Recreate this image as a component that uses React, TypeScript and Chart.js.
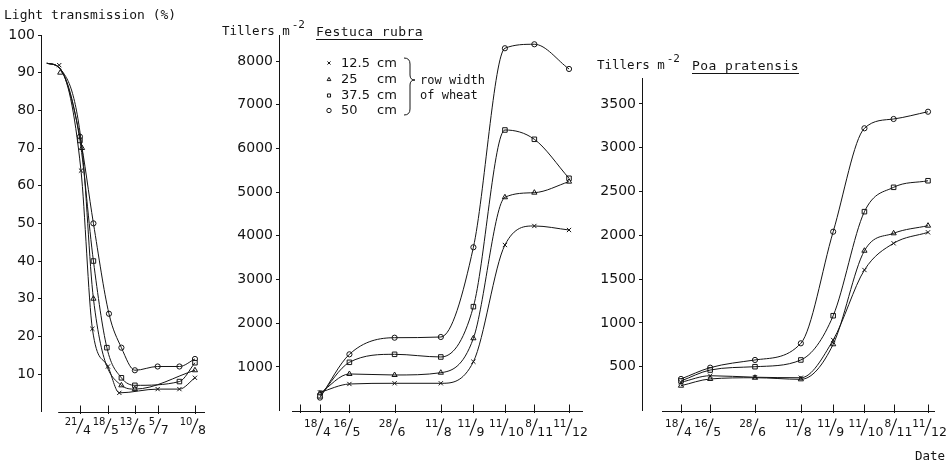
import React, { useEffect, useRef } from "react";
import { Chart, registerables } from "chart.js";
import { drawPoint } from "chart.js/helpers";

Chart.register(...registerables);

const W = 951;
const H = 464;
const INK = "#141414";
const SANS = "'DejaVu Sans', sans-serif";
const MONO = "'DejaVu Sans Mono', monospace";

// ---------------- Panel 1: Light transmission (%) ----------------
const LT_TICK_DAYS = [111, 138, 164, 186, 222];
const LT_TICK_LABELS = [["21", "4"], ["18", "5"], ["13", "6"], ["5", "7"], ["10", "8"]];
const LT_Y_TICKS = [10, 20, 30, 40, 50, 60, 70, 80, 90, 100];
const LT_CURVE_HEAD_DAYS = [79, 92];
const LT_CURVE_HEAD_VALUES = [92.5, 91];

const LT_12_DAYS = [91, 112, 123, 138, 149, 186, 207, 222];
const LT_12_VALUES = [92, 64, 22, 12, 5, 6, 6, 9];
const LT_25_DAYS = [92, 113, 124, 151, 164, 222];
const LT_25_VALUES = [90, 70, 30, 7, 6, 11];
const LT_37_DAYS = [111, 124, 137, 151, 164, 207, 222];
const LT_37_VALUES = [72, 40, 17, 9, 7, 8, 13];
const LT_50_DAYS = [111, 124, 139, 151, 164, 186, 207, 222];
const LT_50_VALUES = [73, 50, 26, 17, 11, 12, 12, 14];

// ---------------- Panels 2 & 3: sampling dates ----------------
const DATE_DAYS = [108, 136, 179, 223, 254, 284, 312, 345];
const DATE_LABELS = [["18", "4"], ["16", "5"], ["28", "6"], ["11", "8"], ["11", "9"], ["11", "10"], ["8", "11"], ["11", "12"]];
const FR_EXTRA_TICK_DAYS = [89];

// Festuca rubra, tillers m-2
const FR_Y_TICKS = [1000, 2000, 3000, 4000, 5000, 6000, 7000, 8000];
const FR_12 = [420, 611, 627, 627, 1121, 3791, 4226, 4134];
const FR_25 = [400, 840, 817, 869, 1657, 4883, 4988, 5240];
const FR_37 = [340, 1107, 1290, 1229, 2380, 6422, 6209, 5317];
const FR_50 = [300, 1290, 1670, 1686, 3739, 8292, 8383, 7818];

// Poa pratensis, tillers m-2
const PP_Y_TICKS = [500, 1000, 1500, 2000, 2500, 3000, 3500];
const PP_12 = [322, 397, 380, 374, 805, 1604, 1909, 2034];
const PP_25 = [283, 360, 374, 356, 756, 1824, 2023, 2110];
const PP_37 = [337, 462, 500, 577, 1082, 2270, 2548, 2623];
const PP_50 = [360, 489, 577, 767, 2041, 3222, 3328, 3411];

// Legend
const LEGEND_WIDTHS = ["12.5", "25", "37.5", "50"];
const LEGEND_UNIT = "cm";
const LEGEND_NOTE = ["row width", "of wheat"];

const STYLES = [
  { pointStyle: "crossRot", radius: 3 },
  { pointStyle: "triangle", radius: 3 },
  { pointStyle: "rect", radius: 3.2 },
  { pointStyle: "circle", radius: 2.6 },
];

type P = { x: number; y: number };
const zip = (xs: number[], ys: number[]): P[] => xs.map((x, i) => ({ x, y: ys[i] }));

function buildDatasets(points: P[][], curves: P[][]) {
  const ds: any[] = [];
  curves.forEach((c) =>
    ds.push({
      data: c,
      borderColor: INK,
      borderWidth: 1,
      pointRadius: 0,
      cubicInterpolationMode: "monotone",
      fill: false,
    })
  );
  points.forEach((p, i) =>
    ds.push({
      data: p,
      showLine: false,
      pointStyle: STYLES[i].pointStyle,
      pointRadius: STYLES[i].radius,
      pointBackgroundColor: "#fff",
      pointBorderColor: INK,
      pointBorderWidth: 1,
    })
  );
  return ds;
}

const xDecoPlugin = {
  id: "xDeco",
  afterDraw(chart: any, _args: any, opts: any) {
    const { ctx, scales } = chart;
    const xs = scales.x;
    const y0 = Math.round(scales.y.getPixelForValue(0)) + 0.5;
    ctx.save();
    ctx.strokeStyle = INK;
    ctx.fillStyle = INK;
    ctx.lineWidth = 1;
    ctx.beginPath();
    ctx.moveTo(xs.getPixelForValue(opts.start), y0);
    ctx.lineTo(xs.getPixelForValue(opts.end), y0);
    ctx.stroke();
    const allTicks: number[] = [...opts.extra, ...opts.days];
    allTicks.forEach((d) => {
      const px = Math.round(xs.getPixelForValue(d)) + 0.5;
      ctx.beginPath();
      ctx.moveTo(px, y0 - 7);
      ctx.lineTo(px, y0 + 1.5);
      ctx.stroke();
    });
    opts.days.forEach((d: number, i: number) => {
      const lab = opts.labels[i];
      const px = xs.getPixelForValue(d);
      ctx.textBaseline = "alphabetic";
      ctx.font = `${opts.numSize}px ${SANS}`;
      ctx.textAlign = "right";
      ctx.fillText(lab[0], px - 2.5, y0 + opts.numBase);
      ctx.font = `${opts.denSize}px ${SANS}`;
      ctx.textAlign = "left";
      ctx.fillText(lab[1], px + 3, y0 + opts.denBase);
      ctx.lineWidth = 1.1;
      ctx.beginPath();
      ctx.moveTo(px - 3.5, y0 + opts.denBase);
      ctx.lineTo(px + 3, y0 + opts.slashTop);
      ctx.stroke();
    });
    ctx.restore();
  },
};

const legendPlugin = {
  id: "fescueLegend",
  afterDraw(chart: any, _args: any, opts: any) {
    if (!opts || !opts.show) return;
    const { ctx } = chart;
    const rows = [63, 79.5, 95.5, 110.5];
    ctx.save();
    ctx.strokeStyle = INK;
    ctx.fillStyle = INK;
    ctx.lineWidth = 1;
    LEGEND_WIDTHS.forEach((w, i) => {
      ctx.save();
      ctx.fillStyle = "#fff";
      ctx.strokeStyle = INK;
      ctx.lineWidth = 1;
      drawPoint(ctx, { pointStyle: STYLES[i].pointStyle, radius: 2.2, rotation: 0, borderWidth: 1 } as any, 329, rows[i]);
      ctx.restore();
      ctx.font = `13px ${SANS}`;
      ctx.textAlign = "left";
      ctx.textBaseline = "middle";
      ctx.fillText(w, 341, rows[i] + 0.5);
      ctx.fillText(LEGEND_UNIT, 377, rows[i] + 0.5);
    });
    // brace
    ctx.beginPath();
    ctx.moveTo(404, 58);
    ctx.quadraticCurveTo(410, 58, 410, 64);
    ctx.lineTo(410, 75);
    ctx.quadraticCurveTo(410, 80, 415, 80);
    ctx.quadraticCurveTo(410, 80, 410, 85);
    ctx.lineTo(410, 109);
    ctx.quadraticCurveTo(410, 115, 404, 115);
    ctx.stroke();
    ctx.font = `12px ${MONO}`;
    ctx.textBaseline = "middle";
    ctx.fillText(LEGEND_NOTE[0], 420, 80.5);
    ctx.fillText(LEGEND_NOTE[1], 420, 95.5);
    ctx.restore();
  },
};

const YAXW = 60;

function makeConfig(p: any) {
  return {
    type: "line",
    data: { datasets: p.datasets },
    options: {
      responsive: false,
      animation: false,
      events: [],
      layout: {
        padding: { left: p.left - YAXW, right: W - p.right, top: p.top, bottom: H - p.bottom },
      },
      plugins: {
        legend: { display: false },
        tooltip: { enabled: false },
        xDeco: p.xDeco,
        fescueLegend: { show: !!p.legend },
      },
      scales: {
        x: { type: "linear", display: false, min: p.xMin, max: p.xMax },
        y: {
          type: "linear",
          min: 0,
          max: p.yMax,
          afterFit: (s: any) => {
            s.width = YAXW;
          },
          afterBuildTicks: (s: any) => {
            s.ticks = p.yTicks.map((v: number) => ({ value: v }));
          },
          grid: { drawOnChartArea: false, drawTicks: true, tickLength: 3, color: INK, lineWidth: 1 },
          border: { display: true, color: INK, width: 1 },
          ticks: {
            color: INK,
            font: { family: SANS, size: 14 },
            padding: 3,
            callback: (v: any) => String(v),
          },
        },
      },
    },
    plugins: [xDecoPlugin, legendPlugin],
  };
}

function ChartCanvas({ cfg }: { cfg: any }) {
  const ref = useRef<HTMLCanvasElement | null>(null);
  useEffect(() => {
    if (!ref.current) return;
    const chart = new Chart(ref.current, cfg);
    return () => chart.destroy();
  }, [cfg]);
  return (
    <canvas
      ref={ref}
      width={W}
      height={H}
      style={{ position: "absolute", left: 0, top: 0, width: W, height: H }}
    />
  );
}

function ltCurve(days: number[], vals: number[]): P[] {
  const last = LT_CURVE_HEAD_DAYS[LT_CURVE_HEAD_DAYS.length - 1];
  return [...zip(LT_CURVE_HEAD_DAYS, LT_CURVE_HEAD_VALUES), ...zip(days, vals).filter((q) => q.x > last + 5)];
}

const ltPoints = [zip(LT_12_DAYS, LT_12_VALUES), zip(LT_25_DAYS, LT_25_VALUES), zip(LT_37_DAYS, LT_37_VALUES), zip(LT_50_DAYS, LT_50_VALUES)];
const ltCurves = [
  ltCurve(LT_12_DAYS, LT_12_VALUES),
  ltCurve(LT_25_DAYS, LT_25_VALUES),
  ltCurve(LT_37_DAYS, LT_37_VALUES),
  ltCurve(LT_50_DAYS, LT_50_VALUES),
];
const frPoints = [FR_12, FR_25, FR_37, FR_50].map((v) => zip(DATE_DAYS, v));
const ppPoints = [PP_12, PP_25, PP_37, PP_50].map((v) => zip(DATE_DAYS, v));

const CFG1 = makeConfig({
  datasets: buildDatasets(ltPoints, ltCurves),
  left: 41, right: 205, top: 35, bottom: 411.7,
  xMin: 73.4, xMax: 231.7, yMax: 100, yTicks: LT_Y_TICKS,
  xDeco: { start: 90, end: 231.7, days: LT_TICK_DAYS, labels: LT_TICK_LABELS, extra: [], numSize: 10, denSize: 12.5, numBase: 12, denBase: 21, slashTop: 6 },
});
const CFG2 = makeConfig({
  datasets: buildDatasets(frPoints, frPoints),
  left: 279, right: 583, top: 35, bottom: 410.7,
  xMin: 69, xMax: 358.3, yMax: 8595, yTicks: FR_Y_TICKS, legend: true,
  xDeco: { start: 81.4, end: 358.3, days: DATE_DAYS, labels: DATE_LABELS, extra: FR_EXTRA_TICK_DAYS, numSize: 10.5, denSize: 12.5, numBase: 15, denBase: 24, slashTop: 7 },
});
const CFG3 = makeConfig({
  datasets: buildDatasets(ppPoints, ppPoints),
  left: 642, right: 935, top: 78, bottom: 410.5,
  xMin: 70.6, xMax: 351.7, yMax: 3796, yTicks: PP_Y_TICKS,
  xDeco: { start: 89.8, end: 351.7, days: DATE_DAYS, labels: DATE_LABELS, extra: [], numSize: 10.5, denSize: 12.5, numBase: 15, denBase: 24, slashTop: 7 },
});

function Label({ left, baseline, size = 13, children, style }: any) {
  return (
    <div
      style={{
        position: "absolute",
        left,
        top: baseline - size * 0.93,
        fontFamily: MONO,
        fontSize: size,
        lineHeight: `${size * 1.164}px`,
        color: INK,
        whiteSpace: "nowrap",
        ...style,
      }}
    >
      {children}
    </div>
  );
}

function Tillers({ left, baseline, species, speciesLeft }: any) {
  return (
    <>
      <Label left={left} baseline={baseline} size={12.5}>
        Tillers m<span style={{ position: "relative", top: -7, fontSize: 11, marginLeft: 2 }}>-2</span>
      </Label>
      <Label
        left={speciesLeft}
        baseline={baseline}
        size={13}
        style={{ textDecoration: "underline", textUnderlineOffset: "3px", letterSpacing: "0.4px" }}
      >
        {species}
      </Label>
    </>
  );
}

export default function App() {
  useEffect(() => {
    document.body.style.margin = "0";
    document.body.style.background = "#fff";
  }, []);
  return (
    <div style={{ position: "relative", width: W, height: H, overflow: "hidden", background: "#fff" }}>
      <ChartCanvas cfg={CFG1} />
      <ChartCanvas cfg={CFG2} />
      <ChartCanvas cfg={CFG3} />
      <Label left={4} baseline={19} size={13}>Light transmission (%)</Label>
      <Tillers left={222} baseline={36} species="Festuca rubra" speciesLeft={316} />
      <Tillers left={597} baseline={70} species="Poa pratensis" speciesLeft={692} />
      <Label left={915} baseline={461} size={12.5}>Date</Label>
    </div>
  );
}
